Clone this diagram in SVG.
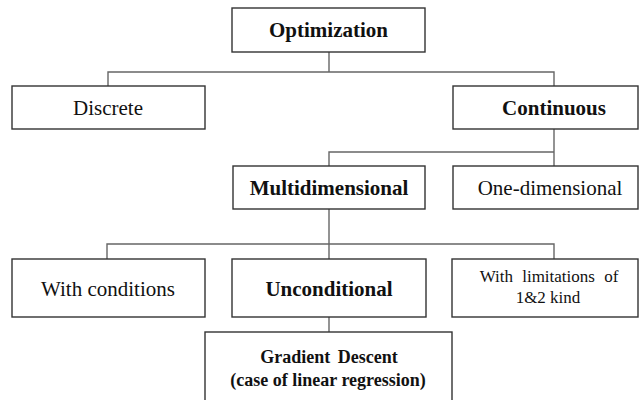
<svg xmlns="http://www.w3.org/2000/svg" width="639" height="400" viewBox="0 0 639 400">
<style>
.box{fill:#fff;stroke:#333;stroke-width:1.4}
.ln{fill:none;stroke:#666;stroke-width:1.4}
text{font-family:"Liberation Serif","Times New Roman",serif;fill:#111;text-anchor:middle}
.b{font-weight:bold}
.t21{font-size:21px}
.t17{font-size:17px}
.t18{font-size:18px}
</style>
<rect width="639" height="400" fill="#fff"/>
<g id="connectors">
<path class="ln" d="M329,52V72M108,86V72H554V86"/>
<path class="ln" d="M554,129V166M329,166V152H554"/>
<path class="ln" d="M329,209V259M107,259V244H554V259"/>
<path class="ln" d="M329,317V332"/>
</g>
<g id="optimization"><rect class="box" x="232" y="8" width="193" height="44"/><text class="b t21" x="328.5" y="37">Optimization</text></g>
<g id="discrete"><rect class="box" x="12" y="86" width="193" height="43"/><text class="t21" x="108" y="115">Discrete</text></g>
<g id="continuous"><rect class="box" x="453" y="86" width="185" height="43"/><text class="b t21" x="554" y="115">Continuous</text></g>
<g id="multidimensional"><rect class="box" x="233" y="166" width="192" height="43"/><text class="b t21" x="329" y="195">Multidimensional</text></g>
<g id="one-dimensional"><rect class="box" x="453" y="166" width="185" height="43"/><text class="t21" x="550" y="195">One-dimensional</text></g>
<g id="with-conditions"><rect class="box" x="12" y="259" width="193" height="58"/><text class="t21" x="108" y="296">With conditions</text></g>
<g id="unconditional"><rect class="box" x="232" y="259" width="194" height="58"/><text class="b t21" x="329" y="296">Unconditional</text></g>
<g id="with-limitations"><rect class="box" x="452" y="259" width="186" height="58"/><text class="t17" x="549" y="282" word-spacing="5">With limitations of</text><text class="t17" x="548" y="303">1&amp;2 kind</text></g>
<g id="gradient-descent"><rect class="box" x="205" y="332" width="247" height="80"/><text class="b t18" x="329" y="363" word-spacing="3">Gradient Descent</text><text class="b t18" x="328" y="386">(case of linear regression)</text></g>
</svg>
